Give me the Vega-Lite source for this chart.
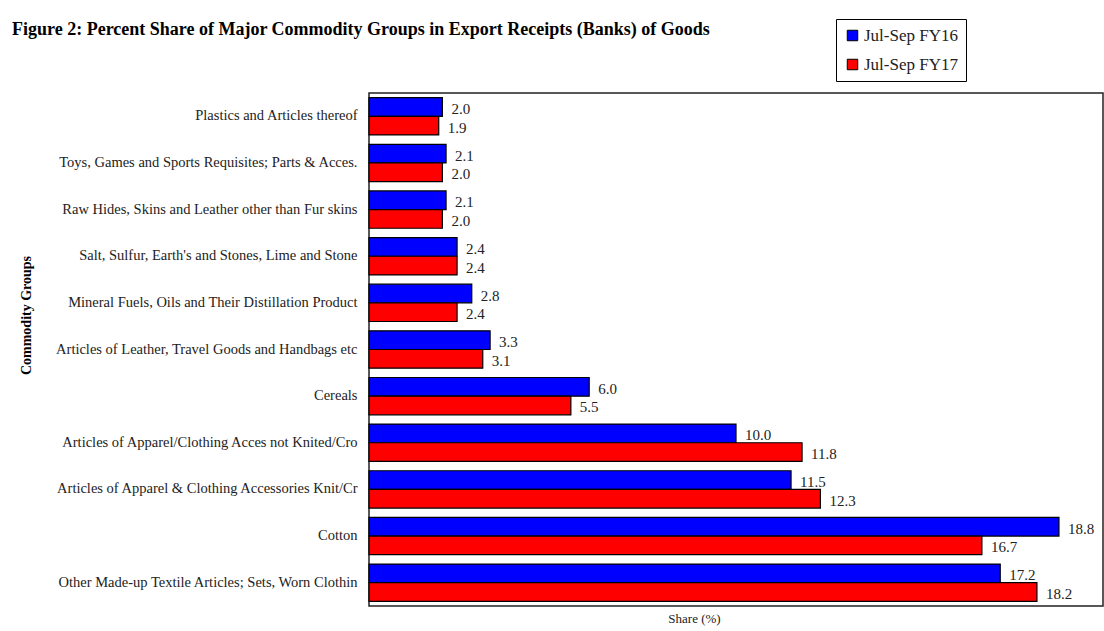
{
  "$schema": "https://vega.github.io/schema/vega-lite/v6.json",
  "width": 734,
  "height": 513,
  "autosize": {"type": "none"},
  "padding": {"left": 369, "top": 93, "right": 1, "bottom": 25},
  "background": "white",
  "title": {
    "text": "Figure 2: Percent Share of Major Commodity Groups in Export Receipts (Banks) of Goods",
    "anchor": "start",
    "frame": "group",
    "dx": -357,
    "offset": 0,
    "dy": 20,
    "font": "Liberation Serif",
    "fontSize": 18,
    "fontWeight": "bold",
    "color": "#000"
  },
  "config": {
    "view": {"stroke": "#222", "strokeWidth": 1.5},
    "font": "Liberation Serif"
  },
  "data": {
    "values": [
      {"group": "Plastics and Articles thereof", "period": "Jul-Sep FY16", "share": 2.0},
      {"group": "Plastics and Articles thereof", "period": "Jul-Sep FY17", "share": 1.9},
      {"group": "Toys, Games and Sports Requisites; Parts & Acces.", "period": "Jul-Sep FY16", "share": 2.1},
      {"group": "Toys, Games and Sports Requisites; Parts & Acces.", "period": "Jul-Sep FY17", "share": 2.0},
      {"group": "Raw Hides, Skins and Leather other than Fur skins", "period": "Jul-Sep FY16", "share": 2.1},
      {"group": "Raw Hides, Skins and Leather other than Fur skins", "period": "Jul-Sep FY17", "share": 2.0},
      {"group": "Salt, Sulfur, Earth's and Stones, Lime and Stone", "period": "Jul-Sep FY16", "share": 2.4},
      {"group": "Salt, Sulfur, Earth's and Stones, Lime and Stone", "period": "Jul-Sep FY17", "share": 2.4},
      {"group": "Mineral Fuels, Oils and Their Distillation Product", "period": "Jul-Sep FY16", "share": 2.8},
      {"group": "Mineral Fuels, Oils and Their Distillation Product", "period": "Jul-Sep FY17", "share": 2.4},
      {"group": "Articles of Leather, Travel Goods and Handbags etc", "period": "Jul-Sep FY16", "share": 3.3},
      {"group": "Articles of Leather, Travel Goods and Handbags etc", "period": "Jul-Sep FY17", "share": 3.1},
      {"group": "Cereals", "period": "Jul-Sep FY16", "share": 6.0},
      {"group": "Cereals", "period": "Jul-Sep FY17", "share": 5.5},
      {"group": "Articles of Apparel/Clothing Acces not Knited/Cro", "period": "Jul-Sep FY16", "share": 10.0},
      {"group": "Articles of Apparel/Clothing Acces not Knited/Cro", "period": "Jul-Sep FY17", "share": 11.8},
      {"group": "Articles of Apparel & Clothing Accessories Knit/Cr", "period": "Jul-Sep FY16", "share": 11.5},
      {"group": "Articles of Apparel & Clothing Accessories Knit/Cr", "period": "Jul-Sep FY17", "share": 12.3},
      {"group": "Cotton", "period": "Jul-Sep FY16", "share": 18.8},
      {"group": "Cotton", "period": "Jul-Sep FY17", "share": 16.7},
      {"group": "Other Made-up Textile Articles; Sets, Worn Clothin", "period": "Jul-Sep FY16", "share": 17.2},
      {"group": "Other Made-up Textile Articles; Sets, Worn Clothin", "period": "Jul-Sep FY17", "share": 18.2}
    ]
  },
  "encoding": {
    "y": {
      "field": "group",
      "type": "nominal",
      "sort": null,
      "scale": {"paddingInner": 0.2, "paddingOuter": 0.1},
      "axis": {
        "title": "Commodity Groups",
        "titleFont": "Liberation Serif",
        "titleFontSize": 14,
        "titleFontWeight": "bold",
        "titleColor": "#000",
        "titleX": -343,
        "titleY": 222,
        "titleAngle": -90,
        "titleAlign": "center",
        "titleBaseline": "middle",
        "labelFont": "Liberation Serif",
        "labelFontSize": 14.5,
        "labelColor": "#222",
        "labelPadding": 12,
        "labelLimit": 400,
        "ticks": false,
        "domain": false
      }
    },
    "yOffset": {"field": "period", "type": "nominal", "sort": ["Jul-Sep FY16", "Jul-Sep FY17"]},
    "x": {
      "field": "share",
      "type": "quantitative",
      "scale": {"domain": [0, 20], "nice": false},
      "axis": {
        "title": "Share (%)",
        "titleFont": "Liberation Serif",
        "titleFontSize": 13,
        "titleFontWeight": "normal",
        "titleColor": "#222",
        "titleX": 325,
        "titlePadding": 6,
        "labels": false,
        "ticks": false,
        "grid": false,
        "domain": false
      }
    }
  },
  "layer": [
    {
      "mark": {"type": "bar", "stroke": "#000", "strokeWidth": 1.2},
      "encoding": {
        "color": {
          "field": "period",
          "type": "nominal",
          "scale": {"domain": ["Jul-Sep FY16", "Jul-Sep FY17"], "range": ["#0000FF", "#FF0000"]},
          "legend": {
            "title": null,
            "orient": "none",
            "legendX": 467,
            "legendY": -74,
            "strokeColor": "#000",
            "fillColor": "#fff",
            "padding": 8,
            "symbolType": "square",
            "symbolSize": 110,
            "symbolStrokeColor": "#000",
            "symbolStrokeWidth": 1,
            "symbolOpacity": 1,
            "labelFont": "Liberation Serif",
            "labelFontSize": 17,
            "labelColor": "#222",
            "labelOffset": 3,
            "rowPadding": 11
          }
        }
      }
    },
    {
      "mark": {"type": "text", "align": "left", "baseline": "middle", "dx": 9, "dy": 2, "font": "Liberation Serif", "fontSize": 15, "color": "#222"},
      "encoding": {
        "text": {"field": "share", "type": "quantitative", "format": ".1f"}
      }
    }
  ]
}
